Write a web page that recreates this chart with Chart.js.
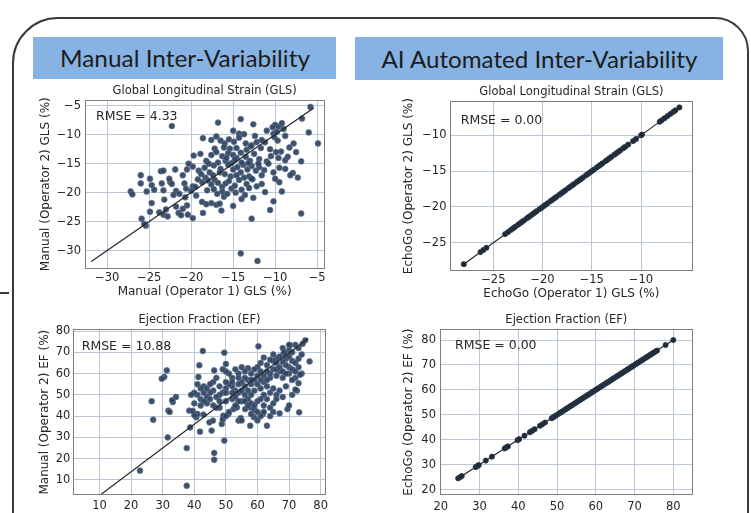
<!DOCTYPE html>
<html><head><meta charset="utf-8">
<script src="https://cdn.jsdelivr.net/npm/chart.js@4.4.0/dist/chart.umd.min.js"></script>
<style>
html,body{margin:0;padding:0;background:#fff;width:751px;height:513px;overflow:hidden;position:relative;}
.slide{position:absolute;left:12px;top:17px;width:737px;height:530px;box-sizing:border-box;border:2px solid #3a3a3a;border-radius:46px 34px 0 0;}
.dash{position:absolute;left:0;top:292px;width:9px;height:2px;background:#3a3a3a;}
.hdr{position:absolute;background:#86b3e3;display:flex;align-items:center;justify-content:center;overflow:visible;}
.hdr span{font-family:Lato,'Open Sans',sans-serif;font-size:23px;color:#1c1c1c;white-space:nowrap;display:inline-block;}
canvas{position:absolute;}
</style></head><body>
<div class="slide"></div>
<div class="dash"></div>
<div class="hdr" style="left:33px;top:37px;width:303px;height:42px"><span data-w="250">Manual Inter-Variability</span></div>
<div class="hdr" style="left:355px;top:37px;width:368px;height:43px"><span data-w="316">AI Automated Inter-Variability</span></div>
<canvas id="c1"></canvas>
<canvas id="c2"></canvas>
<canvas id="c3"></canvas>
<canvas id="c4"></canvas>
<script>
// ---------------- data ----------------
const chartTitles = ['Global Longitudinal Strain (GLS)', 'Ejection Fraction (EF)'];
const rmseTexts = ['RMSE = 4.33', 'RMSE = 0.00', 'RMSE = 10.88', 'RMSE = 0.00'];

const glsTicks = [-30, -25, -20, -15, -10, -5];
const glsAiTicks = [-25, -20, -15, -10];
const efTicks = [10, 20, 30, 40, 50, 60, 70, 80];
const efAiTicks = [20, 30, 40, 50, 60, 70, 80];

// Manual GLS: operator 1 (x) vs operator 2 (y)
const glsManualOp1 = [
-22.3,-14.1,-16.8,-12.6,-10.0,-9.6,-10.3,-9.2,-5.8,-6.8,
-15.0,-14.3,-17.0,-11.0,-9.0,-10.2,-9.8,-18.6,-17.6,-16.5,
-16.0,-15.5,-14.9,-14.3,-13.5,-12.8,-12.2,-11.2,-10.1,-9.7,
-8.8,-4.9,-17.2,-16.1,-15.4,-14.6,-13.4,-12.9,-11.7,-10.6,
-9.3,-7.5,-18.9,-17.6,-17.0,-16.3,-15.6,-15.0,-14.6,-14.1,
-13.5,-13.0,-12.5,-11.9,-11.0,-10.5,-9.6,-8.8,-8.5,-6.9,
-18.2,-16.8,-15.9,-15.2,-14.8,-19.8,-20.5,-19.1,-18.4,-17.8,
-17.3,-16.5,-16.0,-15.6,-15.0,-14.5,-14.1,-13.8,-13.3,-12.8,
-12.3,-11.9,-11.3,-10.8,-10.2,-9.5,-8.8,-7.9,-21.9,-23.6,
-23.3,-26.0,-13.1,-12.7,-11.6,-10.0,-7.3,-21.0,-27.2,-27.0,
-26.0,-24.7,-24.4,-23.5,-22.5,-22.3,-20.8,-20.6,-19.8,-19.2,
-18.7,-18.3,-18.0,-17.6,-17.2,-16.8,-16.3,-15.9,-15.5,-15.2,
-14.8,-14.3,-14.0,-13.4,-13.1,-12.8,-12.2,-11.6,-9.2,-16.3,
-16.9,-16.1,-15.7,-21.8,-23.3,-25.3,-24.7,-23.2,-22.1,-21.4,
-20.7,-20.0,-19.4,-18.7,-17.6,-17.0,-16.6,-15.0,-14.0,-10.2,
-21.8,-18.2,-20.5,-24.9,-23.8,-23.3,-22.8,-21.5,-21.2,-20.4,
-19.8,-23.0,-25.9,-12.8,-10.6,-6.9,-21.0,-25.4,-25.6,-14.1,
-12.1,
-15.8,-14.0,-13.2,-12.0,-17.9,-16.6,-15.3,-14.6,-13.7,-18.8,
-17.4,-19.5,-18.1,-17.3,-14.7,-13.6,-12.6,-11.2,-9.5,-8.2,
-13.7,-12.4,-11.6,-8.3,-9.9,-7.8,-6.0,-19.7,-20.3,-22.6,
-24.9,-16.4,-18.6
];
const glsManualOp2 = [
-8.5,-7.3,-7.9,-8.2,-8.3,-8.6,-8.7,-8.0,-5.2,-7.2,
-9.3,-9.8,-10.3,-9.3,-9.0,-9.8,-9.5,-10.6,-10.9,-11.0,
-11.5,-10.8,-11.2,-10.5,-11.5,-11.8,-11.3,-11.3,-10.4,-11.0,
-10.2,-11.5,-12.4,-12.2,-12.4,-12.3,-12.6,-12.0,-12.3,-12.5,
-12.9,-13.0,-13.3,-13.5,-13.0,-13.7,-13.2,-13.5,-14.0,-13.1,
-13.8,-14.5,-13.3,-14.2,-14.6,-13.7,-14.0,-14.4,-13.8,-14.6,
-14.5,-14.8,-14.5,-14.9,-14.3,-15.5,-16.0,-16.2,-15.7,-16.5,
-15.3,-15.9,-16.8,-15.2,-16.0,-15.6,-16.5,-15.2,-16.0,-15.4,
-16.2,-15.6,-16.1,-15.0,-16.5,-15.7,-15.9,-16.6,-16.0,-16.3,
-16.2,-17.0,-17.2,-17.7,-17.0,-17.6,-17.4,-17.0,-19.8,-20.3,
-18.4,-18.7,-19.5,-18.4,-18.2,-18.5,-18.4,-19.3,-18.9,-17.7,
-18.2,-17.4,-17.9,-18.6,-17.8,-18.3,-19.0,-18.4,-18.0,-19.3,
-18.8,-17.8,-19.5,-18.5,-19.2,-17.6,-18.9,-18.5,-19.8,-19.8,
-20.2,-20.7,-20.2,-19.7,-19.6,-19.8,-21.8,-21.2,-20.4,-20.2,
-20.8,-19.7,-20.5,-21.6,-21.8,-22.1,-21.9,-22.3,-21.1,-21.5,
-22.4,-22.0,-22.2,-23.3,-23.4,-23.8,-24.1,-23.5,-23.9,-23.8,
-24.4,-22.9,-24.5,-24.5,-23.0,-23.6,-22.8,-25.7,-25.4,-30.5,
-31.8,
-14.0,-14.8,-14.9,-15.0,-15.0,-16.5,-17.2,-17.0,-17.4,-16.8,
-17.0,-19.0,-19.6,-19.4,-20.0,-20.4,-20.9,-19.9,-18.2,-17.0,
-9.9,-10.2,-10.9,-12.2,-13.0,-11.5,-9.6,-13.6,-15.0,-17.6,
-17.6,-23.1,-23.5
];

// Manual EF: operator 1 (x) vs operator 2 (y)
const efManualOp1 = [
42.7,49.5,60.3,75.1,74.3,31.3,30.5,29.7,26.5,34.2,
33.2,46.3,41.6,41.3,76.5,70.3,68.2,27.0,31.8,32.2,
31.6,22.8,37.6,37.6,46.3,46.3,49.5,38.7,38.4,41.8,
45.5,40.6,42.9,44.8,45.9,48.7,49.2,50.8,52.4,54.0,
54.7,57.7,58.9,63.0,61.7,67.0,69.5,73.2,57.7,56.1,
53.5,
73,72,70,68,68.5,67,66,69,70,71,
72,73,70,69,68,66,65,64,63,62,
61,60,65,67,70,72,74,73,71,68,
66,64,62,61,59,58,57,56,55,54,
53,52,51,50,49,50,72.5,69,67,66,
65,64,63,62,61,60,59,58,57,56,
55,54,53,52,51,50,49,48,47,46,
45,44,43,42,41,40,40,39,55,60,
61,58,59,57,58,55,53,52,50,48,
47,46,45,44,43,42,41,40,49,50,
51,60,62,63,64,65,66,68,70,71,
62,61,58,57,56,54,53,55,57,59,
61,63,64,66,67,68,69,71,72,73,
74,70,71,65,63,60,58,56,54,52,
50,48,46,44,43,42,41,45,47,48,
50,52,54,56,59,60,62,64,65,33,
39.5,72,73.5
];
const efManualOp2 = [
70.6,69.8,72.8,75.6,74.0,61.5,58.4,57.6,47.0,49.0,
46.6,61.5,63.9,58.4,65.7,73.3,69.3,38.3,42.6,42.0,
30.0,14.4,25.0,7.3,22.7,19.5,28.5,34.7,42.6,32.7,
33.2,39.5,40.7,37.1,37.9,36.3,40.2,41.0,43.3,37.9,
39.1,35.5,39.5,35.5,41.0,41.3,43.3,41.8,44.1,43.3,
44.1,
72,73.5,71,72,70,68,67,67,68,66,
65,63,63,64,65.5,65,66,66.5,64,67.5,
65,63,62,61,60,58,60,55.5,57,58,
59,58,59,61,62,60,62.5,61,63,60,
62,58,60,61,62,64.5,52,54,52,50,
53,51,54,56,53,55,57,55,57,54,
56,55,52,54,55,53,51,50,49,52,
51,49,54,48,50,51,46,50,38,38,
40,41,43,45,46,47,45,48,47,44,
44,45,48,46,47,45,41,40.5,38.5,40,
42,47,45,48,44,46,48,49,45,50,
50,48,50,52,50,51,49,52,48,52,
57,57,60,62,63,61,60,62,61,67,
69,73.5,70,69,61,59,57,58,58,56,
56,54,56,53,51,53,55,55,58,47,
51,51,47,47,45,42,42,40,42,47.5,
42.5,52.5,59.5
];

// EchoGo (AI): operator 1 and operator 2 values are identical (RMSE = 0.00)
const glsEchoGo = [-28.0,-26.3,-26.0,-25.7,-23.8,-23.5,-23.2,-23.0,-22.8,-22.5,
-22.3,-22.1,-21.9,-21.6,-21.4,-21.2,-21.0,-20.8,-20.6,-20.3,
-20.1,-19.9,-19.7,-19.5,-19.2,-19.0,-18.8,-18.6,-18.3,-18.1,
-17.9,-17.7,-17.4,-17.2,-17.0,-16.8,-16.5,-16.3,-16.1,-15.9,
-15.6,-15.4,-15.2,-15.0,-14.8,-14.5,-14.3,-14.1,-13.9,-13.6,
-13.4,-13.2,-13.0,-12.7,-12.5,-12.3,-12.1,-11.8,-11.6,-11.3,
-10.8,-10.5,-10.0,-9.9,-8.1,-7.9,-7.6,-7.3,-7.0,-6.7,-6.5,-6.1];
const efEchoGo = [24.5,25.0,25.4,29.0,29.4,29.8,31.6,33.2,36.5,36.9,
37.3,39.8,40.2,41.6,43.0,43.6,44.2,45.6,46.2,46.9,
48.6,49.0,49.4,49.8,50.3,50.7,51.1,51.5,52.0,52.4,
52.8,53.3,53.7,54.1,54.6,55.0,55.4,55.9,56.3,56.7,
57.2,57.6,58.0,58.5,58.9,59.3,59.8,60.2,60.6,61.1,
61.5,61.9,62.4,62.8,63.2,63.7,64.1,64.5,65.0,65.4,
65.8,66.3,66.7,67.1,67.6,68.0,68.4,68.9,69.3,69.7,
70.2,70.6,71.0,71.5,71.9,72.3,72.8,73.2,73.6,74.1,
74.5,74.9,75.4,75.8,78.0,80.0];

// reference lines (endpoints)
const glsManualLine = [{x:-31.9,y:-31.9},{x:-5.4,y:-5.4}];
const glsAiLine = [{x:-28.0,y:-28.0},{x:-6.1,y:-6.1}];
const efManualLine = [{x:9.9,y:2.6},{x:76.1,y:76.5}];
const efAiLine = [{x:24.5,y:24.5},{x:80.0,y:80.0}];

// ---------------- styling ----------------
const FONT = "'DejaVu Sans'";
const TXT = '#262626';
const GRID = '#bcc7d6';
const FRAME = '#7d7d7d';
const TITLE_SIZE = 11.5, AXIS_SIZE = 12, TICK_SIZE = 11.5, NOTE_SIZE = 12.5;
const fmt = v => String(v).replace('-', '\u2212');

const frameNote = {
  id: 'frameNote',
  afterDatasetsDraw(chart, args, opts) {
    const {ctx, chartArea: a} = chart;
    ctx.save();
    ctx.strokeStyle = FRAME; ctx.lineWidth = 1;
    ctx.strokeRect(Math.round(a.left) + 0.5, Math.round(a.top) + 0.5,
                   Math.round(a.right) - Math.round(a.left) - 1, Math.round(a.bottom) - Math.round(a.top) - 1);
    ctx.font = NOTE_SIZE + 'px ' + FONT;
    ctx.fillStyle = TXT; ctx.textBaseline = 'middle'; ctx.textAlign = 'left';
    ctx.fillText(opts.text, a.left + opts.dx, a.top + opts.dy);
    ctx.restore();
  }
};

function buildPlot(p) {
  const A = p.area;
  const cx = Math.floor(A.l - 62);
  const cy = Math.floor(p.titleY - 10);
  const cw = Math.ceil(A.r + 18) - cx;
  const bottomEdge = p.xTitle ? p.xTitleY + 10 : A.b + 20;
  const ch = Math.ceil(bottomEdge) - cy;
  const cv = document.getElementById(p.id);
  cv.width = cw; cv.height = ch;
  cv.style.left = cx + 'px'; cv.style.top = cy + 'px';
  cv.style.width = cw + 'px'; cv.style.height = ch + 'px';
  const lhT = TITLE_SIZE * 1.2, lhA = AXIS_SIZE * 1.2;
  const tPadTop = p.titleY - cy - lhT / 2;
  const tPadBot = A.t - cy - tPadTop - lhT;
  const wy = A.l - cx;
  const yTitlePad = p.yTitleX - cx - lhA / 2;
  const hx = p.xTitle ? (p.xTitleY - A.b + lhA / 2) : (cy + ch - A.b);
  const pb = cy + ch - A.b - hx;
  const pr = cx + cw - A.r;
  const pts = p.xs.map((x, i) => ({x: x, y: p.ys[i]}));
  new Chart(cv, {
    type: 'scatter',
    data: { datasets: [
      { data: p.line, showLine: true, pointRadius: 0, borderColor: '#262626', borderWidth: 1.2, order: p.lineOrder },
      { data: pts, pointRadius: p.ptR, pointBackgroundColor: p.ptFill, pointBorderColor: p.ptEdge,
        pointBorderWidth: 0.8, backgroundColor: p.ptFill, borderColor: p.ptEdge, order: 1 }
    ]},
    options: {
      responsive: false, animation: false, devicePixelRatio: 1,
      layout: { padding: { left: 0, top: 0, right: pr, bottom: pb } },
      plugins: {
        legend: { display: false }, tooltip: { enabled: false },
        title: { display: true, fullSize: false, text: p.title, color: TXT,
                 font: { family: FONT, size: TITLE_SIZE, weight: 'normal' },
                 padding: { top: tPadTop, bottom: tPadBot } },
        frameNote: { text: p.note, dx: p.noteDx, dy: p.noteDy }
      },
      scales: {
        x: { type: 'linear', position: 'bottom', min: p.xRange[0], max: p.xRange[1],
             afterBuildTicks: s => { s.ticks = p.xTicks.map(v => ({value: v})); },
             afterFit: s => { s.height = hx; },
             grid: { color: GRID, lineWidth: 1, drawTicks: false },
             border: { display: false },
             ticks: { padding: p.xTickPad, color: TXT, font: { family: FONT, size: TICK_SIZE },
                      callback: fmt, maxRotation: 0, autoSkip: false },
             title: { display: !!p.xTitle, text: p.xTitle || '', color: TXT,
                      font: { family: FONT, size: AXIS_SIZE }, padding: { top: 0, bottom: 0 } } },
        y: { type: 'linear', position: 'left', min: p.yRange[0], max: p.yRange[1],
             afterBuildTicks: s => { s.ticks = p.yTicks.map(v => ({value: v})); },
             afterFit: s => { s.width = wy; },
             grid: { color: GRID, lineWidth: 1, drawTicks: false },
             border: { display: false },
             ticks: { padding: p.yTickPad, color: TXT, font: { family: FONT, size: TICK_SIZE },
                      callback: fmt, autoSkip: false },
             title: { display: true, text: p.yTitle, color: TXT,
                      font: { family: FONT, size: AXIS_SIZE }, padding: { top: yTitlePad, bottom: 0 } } }
      }
    },
    plugins: [frameNote]
  });
}

const MAN_FILL = 'rgba(48,66,90,0.92)', MAN_EDGE = 'rgba(90,116,152,0.9)';
const AI_FILL = '#1e2935', AI_EDGE = '#2b3a4b';

buildPlot({ id: 'c1', title: chartTitles[0], note: rmseTexts[0], noteDx: 11.5, noteDy: 17,
  area: {l: 84.5, r: 324.7, t: 100, b: 268.5}, titleY: 91, xTitleY: 292, yTitleX: 46,
  xTitle: 'Manual (Operator 1) GLS (%)', yTitle: 'Manual (Operator 2) GLS (%)',
  xRange: [-32.7, -4.1], yRange: [-33.1, -4.0], xTicks: glsTicks, yTicks: glsTicks,
  xTickPad: 2.6, yTickPad: 3.5, xs: glsManualOp1, ys: glsManualOp2, line: glsManualLine, lineOrder: 0,
  ptR: 2.9, ptFill: MAN_FILL, ptEdge: MAN_EDGE });

buildPlot({ id: 'c2', title: chartTitles[0], note: rmseTexts[1], noteDx: 10.7, noteDy: 19,
  area: {l: 450, r: 692.7, t: 101.3, b: 271}, titleY: 92, xTitleY: 294, yTitleX: 409,
  xTitle: 'EchoGo (Operator 1) GLS (%)', yTitle: 'EchoGo (Operator 2) GLS (%)',
  xRange: [-29.4, -4.75], yRange: [-28.95, -5.25], xTicks: glsAiTicks, yTicks: glsAiTicks,
  xTickPad: 2.4, yTickPad: 3.5, xs: glsEchoGo, ys: glsEchoGo, line: glsAiLine, lineOrder: 2,
  ptR: 2.6, ptFill: AI_FILL, ptEdge: AI_EDGE });

buildPlot({ id: 'c3', title: chartTitles[1], note: rmseTexts[2], noteDx: 8.4, noteDy: 17,
  area: {l: 73.3, r: 325.7, t: 329.3, b: 495}, titleY: 320, yTitleX: 45,
  yTitle: 'Manual (Operator 2) EF (%)',
  xRange: [1.7, 81.6], yRange: [2.95, 80.8], xTicks: efTicks, yTicks: efTicks,
  xTickPad: 4.1, yTickPad: 3, xs: efManualOp1, ys: efManualOp2, line: efManualLine, lineOrder: 0,
  ptR: 2.9, ptFill: MAN_FILL, ptEdge: MAN_EDGE });

buildPlot({ id: 'c4', title: chartTitles[1], note: rmseTexts[3], noteDx: 15, noteDy: 16.7,
  area: {l: 440, r: 692.7, t: 329.3, b: 495}, titleY: 320, yTitleX: 409,
  yTitle: 'EchoGo (Operator 2) EF (%)',
  xRange: [19.8, 85], yRange: [17.8, 84.3], xTicks: efAiTicks, yTicks: efAiTicks,
  xTickPad: 4.8, yTickPad: 4, xs: efEchoGo, ys: efEchoGo, line: efAiLine, lineOrder: 2,
  ptR: 2.6, ptFill: AI_FILL, ptEdge: AI_EDGE });

// fit header text widths (Calibri-like proportions)
document.querySelectorAll('.hdr span').forEach(sp => {
  const w = sp.getBoundingClientRect().width;
  sp.style.transform = 'scaleX(' + (+sp.dataset.w / w) + ')';
});
</script>
</body></html>
